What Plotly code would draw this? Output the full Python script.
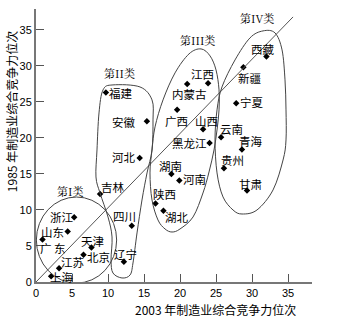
import plotly.graph_objects as go

# ---- data ----
provinces = ["上海", "江苏", "北京", "天津", "广东", "山东", "浙江", "辽宁", "四川", "吉林",
             "河北", "安徽", "福建", "湖北", "陕西", "河南", "湖南", "黑龙江", "山西", "广西",
             "内蒙古", "江西", "云南", "贵州", "甘肃", "青海", "宁夏", "新疆", "西藏"]
rank_2003 = [2.1, 3.2, 6.6, 7.7, 0.9, 4.4, 5.3, 12.2, 13.3, 8.9,
             14.4, 15.4, 9.7, 17.7, 16.6, 19.9, 18.8, 24.1, 23.2, 19.6,
             21.0, 23.9, 25.7, 26.1, 29.3, 28.6, 27.8, 28.8, 32.0]
rank_1985 = [0.8, 1.9, 3.8, 4.8, 5.9, 7.0, 9.0, 2.8, 7.8, 12.2,
             17.2, 22.3, 26.3, 9.9, 10.9, 14.1, 15.0, 19.3, 21.2, 23.9,
             27.5, 27.6, 20.1, 15.8, 12.7, 18.4, 24.8, 29.8, 31.3]
tick_vals = [0, 5, 10, 15, 20, 25, 30, 35]
class_labels = ["第I类", "第II类", "第III类", "第IV类"]

# label offsets (pixels) relative to each point: (dx right, dy down)
label_offsets = {
    "上海": (11, 1), "江苏": (13, -6), "北京": (15, 2.5), "天津": (0.6, -6.3),
    "广东": (10.7, 8), "山东": (-15.3, 0), "浙江": (-12.6, -0.5), "辽宁": (1.3, -7.7),
    "四川": (-7.3, -10), "吉林": (12.5, -7), "河北": (-15.3, -1), "安徽": (-22.4, 0.4),
    "福建": (14.8, 0.6), "湖北": (13.4, 6.5), "陕西": (9.2, -9.3), "河南": (15, -1.7),
    "湖南": (-1.3, -8.3), "黑龙江": (-20.3, 0), "山西": (3.4, -8.3), "广西": (-0.3, 11),
    "内蒙古": (2, 10), "江西": (-5.3, -9.3), "云南": (10.2, -8.3), "贵州": (8.5, -8.3),
    "甘肃": (3.5, -7), "青海": (9, -8.3), "宁夏": (16, -1.3), "新疆": (7, 11),
    "西藏": (-3.8, -7.7),
}
label_text = {"广东": "广 东"}

# class label anchor positions (data coords) and group outlines
class_pos = [(4.68, 12.64), (11.6, 29.03), (22.36, 33.61), (30.65, 36.67)]
outline_II = [(9.31, 26.67), (10.69, 27.36), (14.44, 27.08), (16.11, 25.28), (16.25, 22.50),
              (16.11, 18.33), (15.42, 15.14), (14.72, 11.39), (14.03, 6.81), (13.47, 2.64),
              (13.06, 0.97), (11.94, 0.56), (10.69, 1.25), (10.42, 3.06), (10.56, 6.25),
              (10.0, 9.03), (8.89, 12.36), (8.33, 14.58), (8.47, 18.33), (8.75, 23.47)]
outline_III = [(22.92, 32.36), (24.17, 31.39), (25.0, 29.44), (25.42, 26.67), (25.42, 23.89),
               (25.14, 21.11), (24.72, 18.33), (24.03, 15.28), (23.19, 12.36), (21.81, 9.03),
               (20.0, 7.36), (18.89, 6.94), (17.92, 7.36), (16.94, 8.61), (16.11, 11.39),
               (15.83, 15.14), (16.11, 18.33), (16.53, 21.53), (17.64, 25.28), (19.31, 29.03),
               (21.25, 31.67)]
outline_IV = [(31.53, 34.86), (33.19, 34.58), (34.17, 32.22), (34.58, 28.06), (34.72, 23.89),
              (34.72, 19.72), (34.31, 16.94), (32.92, 12.78), (30.69, 10.0), (28.61, 9.44),
              (27.36, 10.0), (25.97, 11.81), (25.14, 15.14), (24.86, 19.72), (25.14, 23.89),
              (25.83, 27.08), (27.64, 30.83), (29.72, 33.89)]


def closed_path(pts):
    n = len(pts)
    d = "M %.3f,%.3f" % pts[0]
    for i in range(n):
        p0 = pts[(i - 1) % n]
        p1 = pts[i]
        p2 = pts[(i + 1) % n]
        p3 = pts[(i + 2) % n]
        c1 = (p1[0] + (p2[0] - p0[0]) / 6, p1[1] + (p2[1] - p0[1]) / 6)
        c2 = (p2[0] - (p3[0] - p1[0]) / 6, p2[1] - (p3[1] - p1[1]) / 6)
        d += " C %.3f,%.3f %.3f,%.3f %.3f,%.3f" % (c1 + c2 + p2)
    return d + " Z"


CJK = "Noto Sans CJK SC"
outline_col = "#444444"

fig = go.Figure()
fig.add_trace(go.Scatter(
    x=rank_2003, y=rank_1985, mode="markers",
    marker=dict(symbol="diamond", size=5, color="black"),
    hoverinfo="text", text=provinces, showlegend=False))

shapes = [
    dict(type="line", xref="x", yref="y", x0=0, y0=0, x1=35.7, y1=36.8,
         line=dict(color="#555555", width=1)),
    dict(type="circle", xref="x", yref="y", x0=0.05, x1=11.2, y0=-0.15, y1=11.8,
         line=dict(color=outline_col, width=1)),
]
for o in (outline_II, outline_III, outline_IV):
    shapes.append(dict(type="path", xref="x", yref="y", path=closed_path(o),
                       line=dict(color=outline_col, width=1)))

annotations = []
for name, x, y in zip(provinces, rank_2003, rank_1985):
    dx, dy = label_offsets[name]
    annotations.append(dict(x=x, y=y, xref="x", yref="y", text=label_text.get(name, name),
                            showarrow=False, xshift=dx, yshift=-dy,
                            font=dict(family=CJK, size=11.5, color="black")))
for lab, (x, y) in zip(class_labels, class_pos):
    annotations.append(dict(x=x, y=y, xref="x", yref="y", text=lab, showarrow=False,
                            font=dict(family="Noto Serif CJK SC, " + CJK, size=11, color="black")))
annotations.append(dict(x=(215 - 36) / 276, y=-(299 - 282) / 273, xref="paper", yref="paper",
                        text="2003 年制造业综合竞争力位次", showarrow=False, yanchor="top",
                        font=dict(family=CJK, size=12, color="black")))
annotations.append(dict(x=-0.09, y=(282 - 112) / 273, xref="paper", yref="paper",
                        text="1985 年制造业综合竞争力位次", showarrow=False, textangle=-90,
                        xanchor="center", yanchor="middle",
                        font=dict(family=CJK, size=12, color="black")))

axis_common = dict(showgrid=False, zeroline=False, showline=True, linecolor="#777777",
                   linewidth=2, ticks="inside", ticklen=8, tickcolor="#555555", tickwidth=1,
                   tickvals=tick_vals, tickfont=dict(family="Liberation Sans", size=11, color="black"))

fig.update_layout(
    width=351, height=330,
    margin=dict(l=36, r=39, t=9, b=48),
    plot_bgcolor="white", paper_bgcolor="white",
    xaxis=dict(range=[0, 38.33], **axis_common),
    yaxis=dict(range=[0, 37.9], **axis_common),
    shapes=shapes, annotations=annotations, showlegend=False,
)
fig.write_html("out.html")
